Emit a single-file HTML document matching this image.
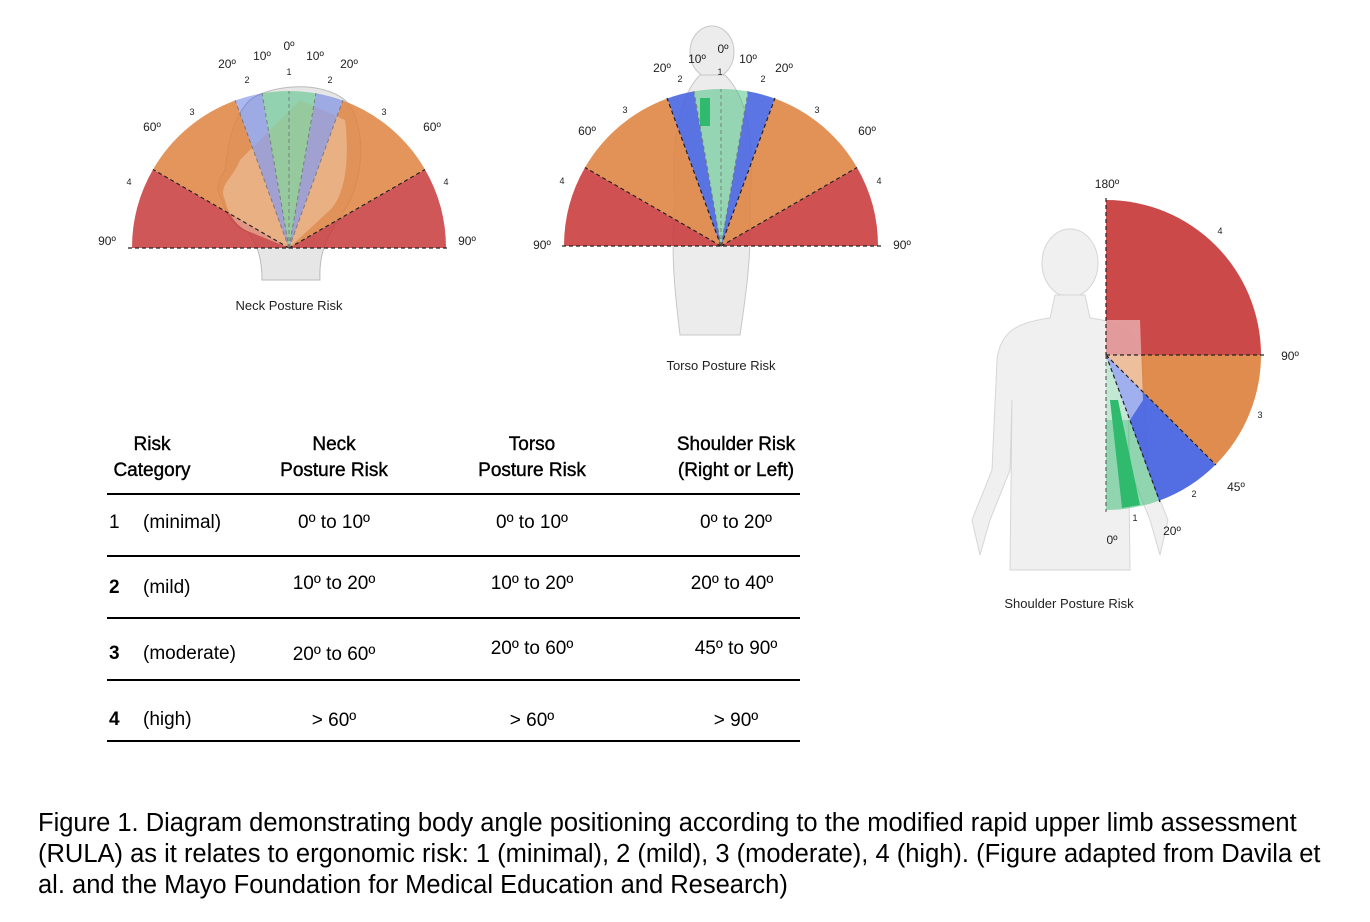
<!DOCTYPE html>
<html><head><meta charset="utf-8"><style>
body{margin:0;background:#fff;width:1370px;height:922px;overflow:hidden;font-family:"Liberation Sans",Arial,sans-serif;}
svg{position:absolute;left:0;top:0}
.cap{position:absolute;left:38px;top:808px;font-size:25.5px;line-height:31px;color:#000;white-space:nowrap}
</style></head><body>
<svg width="1370" height="922" viewBox="0 0 1370 922" font-family="Liberation Sans, Arial, sans-serif">
<g fill="#e6e6e6" stroke="#bbb" stroke-width="1">
<path d="M262,280 C262,260 258,245 248,232 C236,228 225,215 222,200 C215,190 218,180 225,170 C228,150 230,120 250,100 C270,85 320,80 345,100 C365,120 365,170 350,200 C338,225 318,240 320,280 Z"/>
</g>
<g fill-opacity="0.85">
<path d="M289,248 L132,248 A157,157 0 0 1 153,169.5 Z" fill="#c8393a"/>
<path d="M289,248 L446,248 A157,157 0 0 0 425,169.5 Z" fill="#c8393a"/>
<path d="M289,248 L153,169.5 A157,157 0 0 1 235.3,100.5 Z" fill="#de8240"/>
<path d="M289,248 L425,169.5 A157,157 0 0 0 342.7,100.5 Z" fill="#de8240"/>
</g>
<path d="M240,160 C232,180 218,185 225,200 C228,215 238,228 250,232 L289,248 L330,210 C345,195 350,160 345,120 L300,100 Z" fill="#f0c8a8" fill-opacity="0.55"/>
<path d="M289,248 L235.3,100.5 A157,157 0 0 1 261.7,93.4 Z M289,248 L342.7,100.5 A157,157 0 0 0 316.3,93.4 Z" fill="#4462e0" fill-opacity="0.45"/>
<path d="M289,248 L261.7,93.4 A157,157 0 0 1 316.3,93.4 Z" fill="#2fba6e" fill-opacity="0.45"/>
<g stroke="#222" stroke-dasharray="4,3" stroke-width="1.2">
<line x1="128" y1="248" x2="450" y2="248"/><line x1="289" y1="248" x2="153" y2="169.5"/><line x1="289" y1="248" x2="425" y2="169.5"/>
</g>
<g stroke="#666" stroke-dasharray="4,3" stroke-width="1" opacity=".7">
<line x1="289" y1="248" x2="235" y2="100"/><line x1="289" y1="248" x2="343" y2="100"/><line x1="289" y1="248" x2="262" y2="93"/><line x1="289" y1="248" x2="316" y2="93"/><line x1="289" y1="248" x2="289" y2="91"/>
</g>
<g font-size="12" fill="#222" text-anchor="middle">
<text x="107" y="245">90º</text><text x="467" y="245">90º</text><text x="152" y="131">60º</text><text x="432" y="131">60º</text>
<text x="227" y="68">20º</text><text x="349" y="68">20º</text><text x="262" y="60">10º</text><text x="315" y="60">10º</text><text x="289" y="50">0º</text>
</g>
<g font-size="9" fill="#222" text-anchor="middle">
<text x="129" y="185">4</text><text x="446" y="185">4</text><text x="192" y="115">3</text><text x="384" y="115">3</text><text x="247" y="83">2</text><text x="330" y="83">2</text><text x="289" y="75">1</text>
</g>
<text x="289" y="310" font-size="13" text-anchor="middle" fill="#222">Neck Posture Risk</text>

<g fill="#ececec" stroke="#c8c8c8">
<ellipse cx="712" cy="52" rx="22" ry="26"/>
<path d="M700,75 L725,75 C745,95 755,130 750,200 C752,260 745,300 740,335 L680,335 C676,300 670,260 675,200 C670,140 680,95 700,75Z"/>
</g>
<g fill-opacity="0.88">
<path d="M721,246 L564,246 A157,157 0 0 1 585,167.5 Z" fill="#c8393a"/>
<path d="M721,246 L878,246 A157,157 0 0 0 857,167.5 Z" fill="#c8393a"/>
<path d="M721,246 L585,167.5 A157,157 0 0 1 667.3,98.5 Z" fill="#de8240"/>
<path d="M721,246 L857,167.5 A157,157 0 0 0 774.7,98.5 Z" fill="#de8240"/>
<path d="M721,246 L667.3,98.5 A157,157 0 0 1 693.7,91.4 Z M721,246 L774.7,98.5 A157,157 0 0 0 748.3,91.4 Z" fill="#4462e0"/>
</g>
<path d="M721,246 L693.7,91.4 A157,157 0 0 1 748.3,91.4 Z" fill="#2fba6e" fill-opacity="0.45"/>
<rect x="700" y="98" width="10" height="28" fill="#2fba6e"/>
<g stroke="#222" stroke-dasharray="4,3" stroke-width="1.2">
<line x1="562" y1="246" x2="882" y2="246"/><line x1="721" y1="246" x2="585" y2="167.5"/><line x1="721" y1="246" x2="857" y2="167.5"/><line x1="721" y1="246" x2="667" y2="98"/><line x1="721" y1="246" x2="775" y2="98"/>
</g>
<g stroke="#666" stroke-dasharray="4,3" stroke-width="1" opacity=".7"><line x1="721" y1="246" x2="694" y2="91"/><line x1="721" y1="246" x2="748" y2="91"/><line x1="721" y1="246" x2="721" y2="89"/></g>
<g font-size="12" fill="#222" text-anchor="middle">
<text x="542" y="249">90º</text><text x="902" y="249">90º</text><text x="587" y="135">60º</text><text x="867" y="135">60º</text>
<text x="662" y="72">20º</text><text x="784" y="72">20º</text><text x="697" y="63">10º</text><text x="748" y="63">10º</text><text x="723" y="53">0º</text>
</g>
<g font-size="9" fill="#222" text-anchor="middle">
<text x="562" y="184">4</text><text x="879" y="184">4</text><text x="625" y="113">3</text><text x="817" y="113">3</text><text x="680" y="82">2</text><text x="763" y="82">2</text><text x="720" y="75">1</text>
</g>
<text x="721" y="370" font-size="13" text-anchor="middle" fill="#222">Torso Posture Risk</text>

<g fill="#f0f0f0" stroke="#d6d6d6">
<ellipse cx="1070" cy="263" rx="28" ry="34"/>
<path d="M1055,295 L1085,295 L1090,318 C1120,322 1140,330 1143,360 L1148,470 L1168,520 L1160,555 L1150,520 L1130,470 L1128,400 L1130,570 L1010,570 L1012,400 L1010,470 L990,520 L980,555 L972,520 L992,470 L997,360 C1000,330 1020,322 1050,318 Z"/>
</g>
<g fill-opacity="0.92">
<path d="M1106,355 L1106,200 A155,155 0 0 1 1261,355 Z" fill="#c8393a"/>
<path d="M1106,355 L1261,355 A155,155 0 0 1 1215.6,464.6 Z" fill="#de8240"/>
<path d="M1106,355 L1215.6,464.6 A155,155 0 0 1 1159,500.7 Z" fill="#4462e0"/>
<path d="M1106,355 L1159,500.7 A155,155 0 0 1 1106,510 Z" fill="#2fba6e" fill-opacity="0.5"/>
</g>
<path d="M1106,320 L1140,320 L1143,400 L1130,420 L1106,420 Z" fill="#fff" fill-opacity="0.45"/>
<path d="M1110,400 L1118,400 L1140,505 L1122,508 Z" fill="#2fba6e"/>
<g stroke="#222" stroke-dasharray="4,3" stroke-width="1.2">
<line x1="1106" y1="198" x2="1106" y2="355"/><line x1="1106" y1="355" x2="1265" y2="355"/><line x1="1106" y1="355" x2="1216" y2="465"/><line x1="1106" y1="355" x2="1160" y2="502"/><line x1="1106" y1="355" x2="1106" y2="512" stroke="#666"/>
</g>
<g font-size="12" fill="#222" text-anchor="middle">
<text x="1107" y="188">180º</text><text x="1290" y="360">90º</text><text x="1236" y="491">45º</text><text x="1172" y="535">20º</text><text x="1112" y="544">0º</text>
</g>
<g font-size="9" fill="#222" text-anchor="middle">
<text x="1220" y="234">4</text><text x="1260" y="418">3</text><text x="1194" y="497">2</text><text x="1135" y="521">1</text>
</g>
<text x="1069" y="608" font-size="13" text-anchor="middle" fill="#222">Shoulder Posture Risk</text>

<g font-size="19" fill="#000" text-anchor="middle" stroke="#000" stroke-width="0.4">
<text x="152" y="450">Risk</text><text x="152" y="476">Category</text>
<text x="334" y="450">Neck</text><text x="334" y="476">Posture Risk</text>
<text x="532" y="450">Torso</text><text x="532" y="476">Posture Risk</text>
<text x="736" y="450">Shoulder Risk</text><text x="736" y="476">(Right or Left)</text>
</g>
<g font-size="19" fill="#000" text-anchor="middle">
<text x="334" y="528">0º to 10º</text><text x="532" y="528">0º to 10º</text><text x="736" y="528">0º to 20º</text>
<text x="334" y="589">10º to 20º</text><text x="532" y="589">10º to 20º</text><text x="732" y="589">20º to 40º</text>
<text x="334" y="660">20º to 60º</text><text x="532" y="654">20º to 60º</text><text x="736" y="654">45º to 90º</text>
<text x="334" y="726">&gt; 60º</text><text x="532" y="726">&gt; 60º</text><text x="736" y="726">&gt; 90º</text>
</g>
<g font-size="19" fill="#000">
<text x="109" y="528">1</text><text x="143" y="528">(minimal)</text>
<text x="109" y="593" font-weight="bold">2</text><text x="143" y="593">(mild)</text>
<text x="109" y="659" font-weight="bold">3</text><text x="143" y="659">(moderate)</text>
<text x="109" y="725" font-weight="bold">4</text><text x="143" y="725">(high)</text>
</g>
<g stroke="#000" stroke-width="2">
<line x1="107" y1="494" x2="800" y2="494"/><line x1="107" y1="556" x2="800" y2="556"/><line x1="107" y1="618" x2="800" y2="618"/><line x1="107" y1="680" x2="800" y2="680"/><line x1="107" y1="741" x2="800" y2="741"/>
</g>
</svg>
<div class="cap">Figure 1. Diagram demonstrating body angle positioning according to the modified rapid upper limb assessment<br>(RULA) as it relates to ergonomic risk: 1 (minimal), 2 (mild), 3 (moderate), 4 (high). (Figure adapted from Davila et<br>al. and the Mayo Foundation for Medical Education and Research)</div>
</body></html>
